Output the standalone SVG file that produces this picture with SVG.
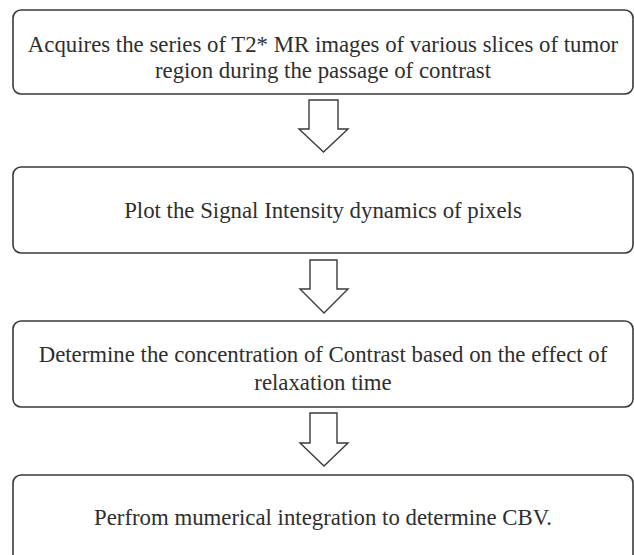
<svg xmlns="http://www.w3.org/2000/svg" width="634" height="555" viewBox="0 0 634 555">
<style>
.box{fill:#fff;stroke:#3a3a3a;stroke-width:1.6}
.arr{fill:#fff;stroke:#3a3a3a;stroke-width:1.4;stroke-linejoin:miter}
.t{font-family:'Liberation Serif','DejaVu Serif',serif;font-size:22.8px;fill:#2e2e2e;text-anchor:middle}
</style>
<rect width="634" height="555" fill="#fff"/>
<g id="n1"><rect class="box" x="13" y="10" width="620" height="84" rx="8"/>
<text class="t" x="323" y="52">Acquires the series of T2* MR images of various slices of tumor</text>
<text class="t" x="323" y="78">region during the passage of contrast</text></g>
<g id="n2"><rect class="box" x="13" y="167" width="620" height="86" rx="8"/>
<text class="t" x="323" y="218">Plot the Signal Intensity dynamics of pixels</text></g>
<g id="n3"><rect class="box" x="13" y="321" width="620" height="86" rx="8"/>
<text class="t" x="323" y="362">Determine the concentration of Contrast based on the effect of</text>
<text class="t" x="323" y="390">relaxation time</text></g>
<g id="n4"><rect class="box" x="13" y="475" width="620" height="90" rx="8"/>
<text class="t" x="323" y="525">Perfrom mumerical integration to determine CBV.</text></g>
<g id="connectors">
<path class="arr" d="M309,100 H338 V129 H348 L323.5,152 L299,129 H309 Z"/>
<path class="arr" d="M310,260 H337 V289 H348 L324,313 L300,289 H310 Z"/>
<path class="arr" d="M310,413 H337 V443 H348 L324,466 L300,443 H310 Z"/>
</g>
</svg>
